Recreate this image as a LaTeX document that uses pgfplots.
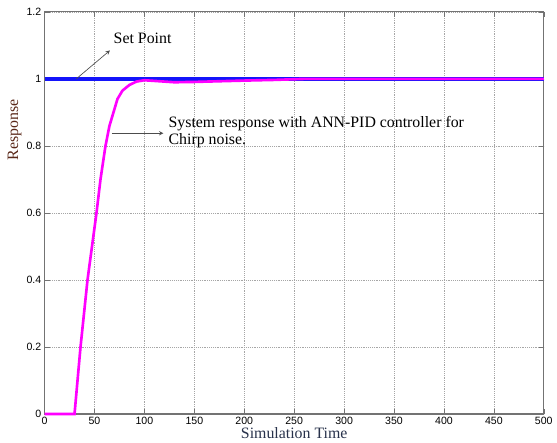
\documentclass[border=0pt]{standalone}
\usepackage{fontspec}
\setmainfont{Liberation Serif}
\newfontfamily\tickfont{Liberation Sans}
\usepackage{pgfplots}
\pgfplotsset{compat=1.18}

\definecolor{setblue}{RGB}{20,20,250}
\definecolor{respmag}{RGB}{255,0,255}
\definecolor{ylabcol}{RGB}{90,40,25}
\definecolor{xlabcol}{RGB}{40,50,75}

\begin{document}
\begin{tikzpicture}
\begin{axis}[
    scale only axis,
    width=378pt, height=304.5pt,
    xmin=0, xmax=500,
    ymin=0, ymax=1.2,
    xtick={0,50,...,500},
    ytick={0,0.2,...,1.2},
    tick align=inside,
    major tick length=4pt,
    grid=major,
    major grid style={densely dotted, gray!70, line width=0.5pt},
    axis line style={black!55, line width=0.8pt},
    tick style={black!55},
    ticklabel style={font=\tickfont\fontsize{8}{9}\selectfont},
    /pgf/number format/assume math mode=true,
    xticklabel style={yshift=1pt},
    yticklabel style={xshift=1pt},
    xlabel={Simulation Time},
    ylabel={Response},
    xlabel style={font=\fontsize{12}{13}\selectfont, text=xlabcol,
        at={(axis description cs:0.5,-0.047)}, anchor=center},
    ylabel style={font=\fontsize{12}{13}\selectfont, text=ylabcol,
        at={(axis description cs:-0.06,0.707)}, anchor=center, rotate=0},
    clip=false,
]
% set point
\addplot[setblue, line width=2.8pt] coordinates {(0,1) (500,1)};

% system response
\addplot[respmag, line width=2pt] coordinates {
    (0,0) (30,0) (33,0.1) (36,0.2) (39.5,0.3) (43,0.4) (47.5,0.5) (52,0.6)
    (56,0.7) (61,0.8) (65,0.86) (69,0.9) (73,0.94) (78,0.965) (85,0.982)
    (92,0.992) (100,0.996) (115,0.993) (130,0.99) (150,0.991) (175,0.993)
    (200,0.995) (230,0.997) (260,1.0) (500,1.0)
};

% annotations
\draw[-stealth, black!70, line width=0.5pt] (axis cs:31.7,1.0) -- (axis cs:65.5,1.085);
\node[anchor=west, font=\fontsize{12}{13}\selectfont, inner sep=0pt]
    at (axis cs:69,1.122) {Set Point};
\draw[-stealth, black!70, line width=0.5pt] (axis cs:67.5,0.838) -- (axis cs:119,0.838);
\node[anchor=west, align=left, font=\fontsize{12}{13.5}\selectfont, inner sep=0pt]
    at (axis cs:124,0.841) {System response with ANN-PID controller for\\Chirp noise.};
\end{axis}
\useasboundingbox ([shift={(-33.75pt,-21pt)}]current axis.south west)
    rectangle ([shift={(6pt,9pt)}]current axis.north east);
\end{tikzpicture}
\end{document}
